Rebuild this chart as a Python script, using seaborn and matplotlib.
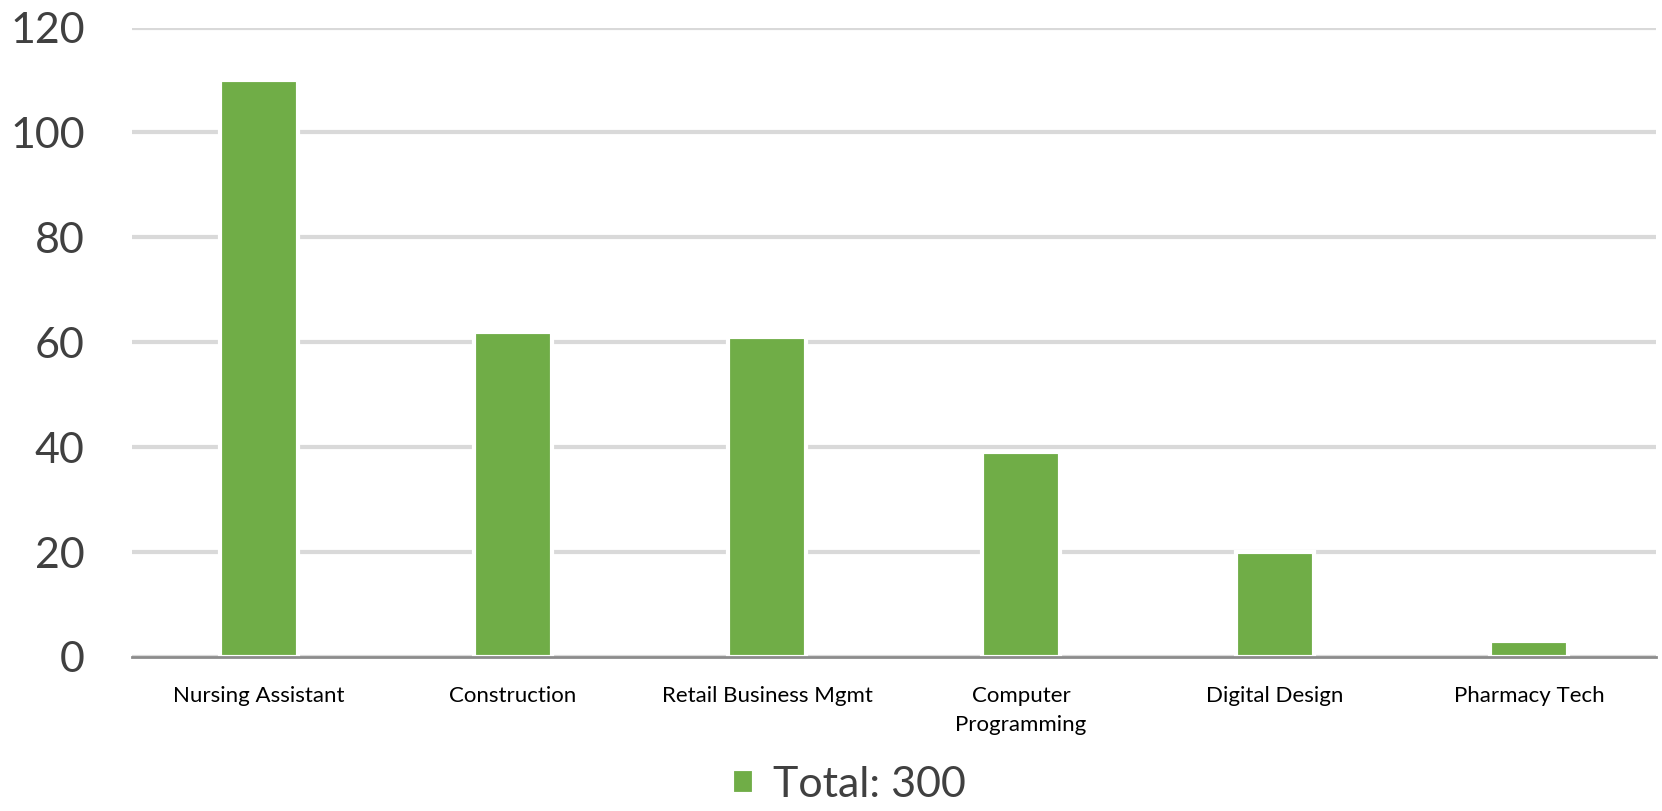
import matplotlib
matplotlib.use("Agg")
import matplotlib.pyplot as plt
import pandas as pd
import seaborn as sns

# data
programs = ["Nursing Assistant", "Construction", "Retail Business Mgmt",
            "Computer\nProgramming", "Digital Design", "Pharmacy Tech"]
students = [110, 62, 61, 39, 20, 3]
series_label = "Total: 300"
y_ticks = [0, 20, 40, 60, 80, 100, 120]

df = pd.DataFrame({"program": programs, "students": students})

sns.set_theme(style="white")
plt.rcParams["font.family"] = ["Lato", "DejaVu Sans"]

fig = plt.figure(figsize=(16.62, 8.11), dpi=100)
ax = fig.add_axes([0.0794, 0.19, 0.917, 0.776])

sns.barplot(data=df, x="program", y="students", color="#70AD47", saturation=1,
            width=0.31, edgecolor="white", linewidth=3, label=series_label,
            ax=ax, zorder=3)

ax.set_ylim(0, 120)
ax.set_yticks(y_ticks)
ax.yaxis.grid(True, color="#d9d9d9", linewidth=3)
ax.set_axisbelow(True)
ax.set_xlabel("")
ax.set_ylabel("")

for side in ["top", "right", "left"]:
    ax.spines[side].set_visible(False)
ax.spines["bottom"].set_color("#8c8c8c")
ax.spines["bottom"].set_linewidth(2)
ax.spines["bottom"].set_zorder(4)

ax.tick_params(axis="y", labelsize=31, labelcolor="#404040", length=0, pad=34)
ax.tick_params(axis="x", labelsize=16, labelcolor="#000000", length=0, pad=21)
for lbl in ax.get_xticklabels():
    lbl.set_linespacing(1.55)

handles, labels = ax.get_legend_handles_labels()
if ax.get_legend() is not None:
    ax.get_legend().remove()
fig.legend(handles, labels, loc="center", bbox_to_anchor=(0.511, 0.032),
           frameon=False, fontsize=31, handlelength=0.5, handleheight=0.5,
           handletextpad=0.45, labelcolor="#404040", borderpad=0.1)

fig.savefig("out.png", dpi=100, facecolor="white")
